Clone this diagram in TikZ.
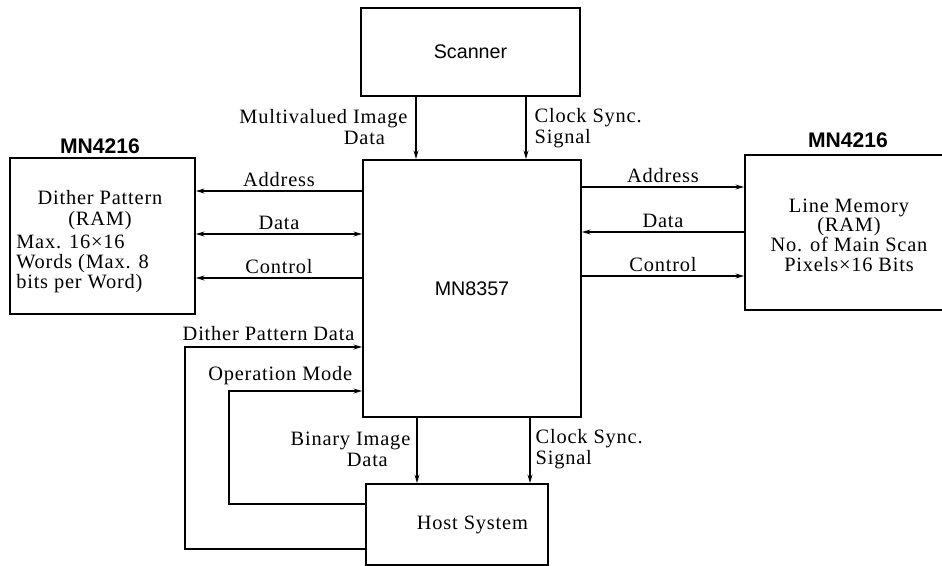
\documentclass[tikz,border=0pt]{standalone}
\usepackage{fontspec}
\setmainfont{Liberation Serif}[LetterSpace=4]
\setsansfont{Liberation Sans}
\usetikzlibrary{arrows.meta}

\begin{document}
\begin{tikzpicture}[x=0.025cm, y=-0.025cm,
    blk/.style={draw, line width=1.4pt, inner sep=0pt},
    arr/.style={line width=0.8pt, -{Stealth[length=6pt,width=3.5pt]}},
    darr/.style={line width=0.8pt, {Stealth[length=6pt,width=3.5pt]}-{Stealth[length=6pt,width=3.5pt]}},
    lbl/.style={font=\fontsize{14.5}{15}\selectfont, inner sep=1pt},
    boxtxt/.style={font=\fontsize{14.5}{14}\selectfont, inner sep=0pt},
    chip/.style={font=\sffamily\bfseries\fontsize{15}{15}\selectfont}]
    \useasboundingbox (0,0) rectangle (942,566);

    % blocks
    \node[blk, minimum width=5.475cm, minimum height=2.2cm,
          font=\sffamily\fontsize{14}{15}\selectfont] (scanner) at (470.5,52) {Scanner};
    \node[blk, minimum width=5.45cm, minimum height=6.425cm,
          font=\sffamily\fontsize{14}{15}\selectfont] (mn) at (472,288.5) {MN8357};
    \node[blk, minimum width=4.55cm, minimum height=2.025cm, lbl] (host) at (457,524.5) {\hspace*{22pt}Host System};
    \node[blk, minimum width=4.625cm, minimum height=3.9cm] (dither) at (102.5,236) {};
    \node[blk, minimum width=5cm, minimum height=3.875cm] (linemem) at (845,232.5) {};

    \node[boxtxt, font=\fontsize{14.5}{14.5}\selectfont, align=center] (dithertop) at (100,210) {Dither Pattern\\(RAM)};
    \node[boxtxt, align=left, anchor=west] (ditherbot) at (16,264)
        {Max. 16×16\\Words (Max. 8\\bits per Word)};
    \node[boxtxt, align=center] (linetxt) at (849,235)
        {Line Memory\\(RAM)\\No. of Main Scan\\Pixels×16 Bits};

    \node[chip] (mnleft) at (100,146) {MN4216};
    \node[chip] (mnright) at (848,140) {MN4216};

    % scanner -> MN8357
    \draw[arr] (scanner.south -| 416,0) -- (mn.north -| 416,0);
    \draw[arr] (scanner.south -| 526,0) -- (mn.north -| 526,0);
    \node[lbl, align=right, anchor=east] (mvdata) at (409,127) {Multivalued Image\\Data\hspace*{16pt}};
    \node[lbl, align=left, anchor=west] (clkin) at (533,128) {Clock Sync.\\Signal};

    % dither pattern RAM
    \draw[arr] (mn.west |- 0,191) -- (dither.east |- 0,191) node[lbl, midway, above=2pt] (dadr) {Address};
    \draw[darr] (mn.west |- 0,234) -- (dither.east |- 0,234) node[lbl, midway, above=2pt] (ddat) {Data};
    \draw[arr] (mn.west |- 0,278) -- (dither.east |- 0,278) node[lbl, midway, above=2pt] (dctl) {Control};

    % line memory
    \draw[arr] (mn.east |- 0,187) -- (linemem.west |- 0,187) node[lbl, midway, above=2pt] (ladr) {Address};
    \draw[arr] (linemem.west |- 0,232) -- (mn.east |- 0,232) node[lbl, midway, above=2pt] (ldat) {Data};
    \draw[arr] (mn.east |- 0,276) -- (linemem.west |- 0,276) node[lbl, midway, above=2pt] (lctl) {Control};

    % host system feedback
    \draw[arr] (host.west |- 0,549) -| (185,347) -- (mn.west |- 0,347);
    \node[lbl, anchor=south east] (dpd) at (356,342) {Dither Pattern Data};
    \draw[arr] (host.west |- 0,504) -| (229,391) -- (mn.west |- 0,391);
    \node[lbl, anchor=south east] (opm) at (354,387) {Operation Mode};

    % MN8357 -> host
    \draw[arr] (mn.south -| 417,0) -- (host.north -| 417,0);
    \draw[arr] (mn.south -| 530,0) -- (host.north -| 530,0);
    \node[lbl, align=right, anchor=east] (bindata) at (412,449) {Binary Image\\Data\hspace*{16pt}};
    \node[lbl, align=left, anchor=west] (clkout) at (534,449) {Clock Sync.\\Signal};
\end{tikzpicture}
\end{document}
